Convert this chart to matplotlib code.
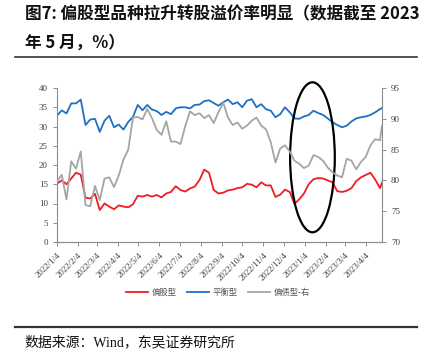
import matplotlib as mpl
mpl.use('Agg')
import matplotlib.pyplot as plt
from matplotlib.patches import Ellipse
from matplotlib.lines import Line2D
import pandas as pd

plt.rcParams['font.family'] = ['Noto Sans CJK SC', 'DejaVu Sans']

# weekly samples
dates = list(pd.date_range('2022-01-04', periods=69, freq='7D')) + [pd.Timestamp('2023-04-28')]

equity = [15.2, 16.0, 15.0, 16.5, 18.0, 17.5, 11.5, 11.3, 12.5, 8.3,
          10.0, 9.2, 8.5, 9.5, 9.2, 9.0, 9.8, 12.0, 11.8, 12.2,
          11.8, 12.2, 11.6, 12.6, 13.0, 14.5, 13.5, 13.1, 13.9, 14.4,
          16.1, 18.8, 18.0, 13.5, 12.6, 12.8, 13.4, 13.6, 14.0, 14.2,
          15.1, 14.9, 14.2, 15.5, 14.7, 14.7, 11.7, 12.3, 13.6, 13.0,
          9.9, 11.1, 12.6, 15.0, 16.3, 16.6, 16.5, 16.0, 15.5, 13.2,
          13.0, 13.3, 14.0, 15.8, 16.8, 17.4, 18.0, 16.2, 14.0, 15.4]

balanced = [32.8, 34.2, 33.4, 36.0, 36.0, 37.0, 30.4, 31.8, 32.0, 28.6,
            31.5, 32.8, 29.8, 30.5, 29.2, 31.2, 32.5, 35.6, 34.2, 35.6,
            34.4, 34.0, 33.0, 33.8, 33.2, 34.7, 35.0, 35.0, 34.7, 35.6,
            35.7, 36.6, 36.8, 36.1, 35.4, 36.3, 37.0, 35.8, 36.3, 35.0,
            36.7, 37.1, 35.0, 35.8, 34.5, 34.1, 32.4, 33.2, 35.0, 33.7,
            32.1, 32.0, 32.6, 33.0, 34.1, 33.5, 33.0, 32.1, 31.1, 30.4,
            29.8, 30.2, 31.3, 32.1, 32.4, 32.6, 33.0, 33.7, 34.5, 34.8]

bond = [79.9, 80.9, 76.9, 83.1, 81.9, 84.7, 76.0, 75.8, 79.1, 76.8,
        80.3, 80.5, 78.9, 80.8, 83.4, 85.0, 90.2, 90.3, 89.9, 91.6,
        90.1, 88.2, 87.4, 89.6, 86.3, 86.3, 85.9, 88.8, 91.2, 90.6,
        90.9, 90.1, 90.6, 89.3, 91.1, 92.6, 90.2, 89.0, 89.4, 88.4,
        88.9, 89.7, 90.2, 88.9, 88.3, 86.2, 82.9, 85.2, 85.7, 84.7,
        83.2, 82.7, 82.0, 82.4, 84.1, 83.8, 83.2, 82.1, 81.3, 80.8,
        80.5, 83.5, 83.2, 81.8, 83.0, 83.8, 85.7, 86.7, 86.5, 88.9]

tick_labels = ['2022/1/4', '2022/2/4', '2022/3/4', '2022/4/4', '2022/5/4', '2022/6/4',
               '2022/7/4', '2022/8/4', '2022/9/4', '2022/10/4', '2022/11/4', '2022/12/4',
               '2023/1/4', '2023/2/4', '2023/3/4', '2023/4/4']
series_names = ['偏股型', '平衡型', '偏债型-右']

W, H = 430, 364
fig = plt.figure(figsize=(W / 100, H / 100), dpi=100)
ax = fig.add_axes([57 / W, 122 / H, 325 / W, 154 / H])
ax2 = ax.twinx()

l1, = ax.plot(dates, equity, color='#EE1C25', lw=1.3)
l2, = ax.plot(dates, balanced, color='#1F6FC5', lw=1.3)
l3, = ax2.plot(dates, bond, color='#A5A5A5', lw=1.3)

ax.set_xlim(pd.Timestamp('2022-01-04'), pd.Timestamp('2023-04-28'))
ax.set_ylim(0, 40)
ax2.set_ylim(70, 95)
ax.set_yticks(range(0, 41, 5))
ax2.set_yticks(range(70, 96, 5))
ax.set_xticks(pd.to_datetime(tick_labels, format='%Y/%m/%d'))
ax.set_xticklabels(tick_labels, rotation=45, ha='right', va='top', rotation_mode='anchor')

for a in (ax, ax2):
    for s in a.spines.values():
        s.set_color('#8C8C8C')
        s.set_linewidth(0.8)
    a.spines['top'].set_visible(False)
    a.tick_params(colors='#8C8C8C', length=3, width=0.7, labelcolor='#404040')
    for lab in a.get_xticklabels() + a.get_yticklabels():
        lab.set_fontfamily('Liberation Serif')
        lab.set_fontsize(6.5)
ax2.spines['left'].set_visible(False)
ax.spines['right'].set_visible(False)

# highlight ellipse
ax.add_patch(Ellipse((0.786, 0.55), 0.1375, 0.974, transform=ax.transAxes,
                     fill=False, edgecolor='black', lw=1.6, clip_on=False, zorder=5))

fig.legend([l1, l2, l3], series_names, loc='center', bbox_to_anchor=(218 / W, 1 - 292 / H),
           ncol=3, frameon=False, fontsize=6, handlelength=2.6, handletextpad=0.5,
           columnspacing=1.2, labelcolor='#555555')

fig.text(25 / W, 1 - 14 / H, '图7: 偏股型品种拉升转股溢价率明显（数据截至 2023',
         fontsize=12, fontweight='bold', va='center', ha='left', color='#111111')
fig.text(25 / W, 1 - 43 / H, '年 5 月，%）', fontsize=12, fontweight='bold',
         va='center', ha='left', color='#111111')
fig.add_artist(Line2D([15 / W, 417 / W], [1 - 57 / H] * 2, transform=fig.transFigure,
                      color='#333333', lw=1.2))
fig.add_artist(Line2D([15 / W, 417 / W], [1 - 327 / H] * 2, transform=fig.transFigure,
                      color='#333333', lw=1.6))
fig.text(24 / W, 1 - 342 / H, '数据来源：Wind，东吴证券研究所', fontsize=10,
         family=['Liberation Serif', 'Noto Sans CJK SC'],
         va='center', ha='left', color='#111111')

fig.savefig('out.png', dpi=100)
